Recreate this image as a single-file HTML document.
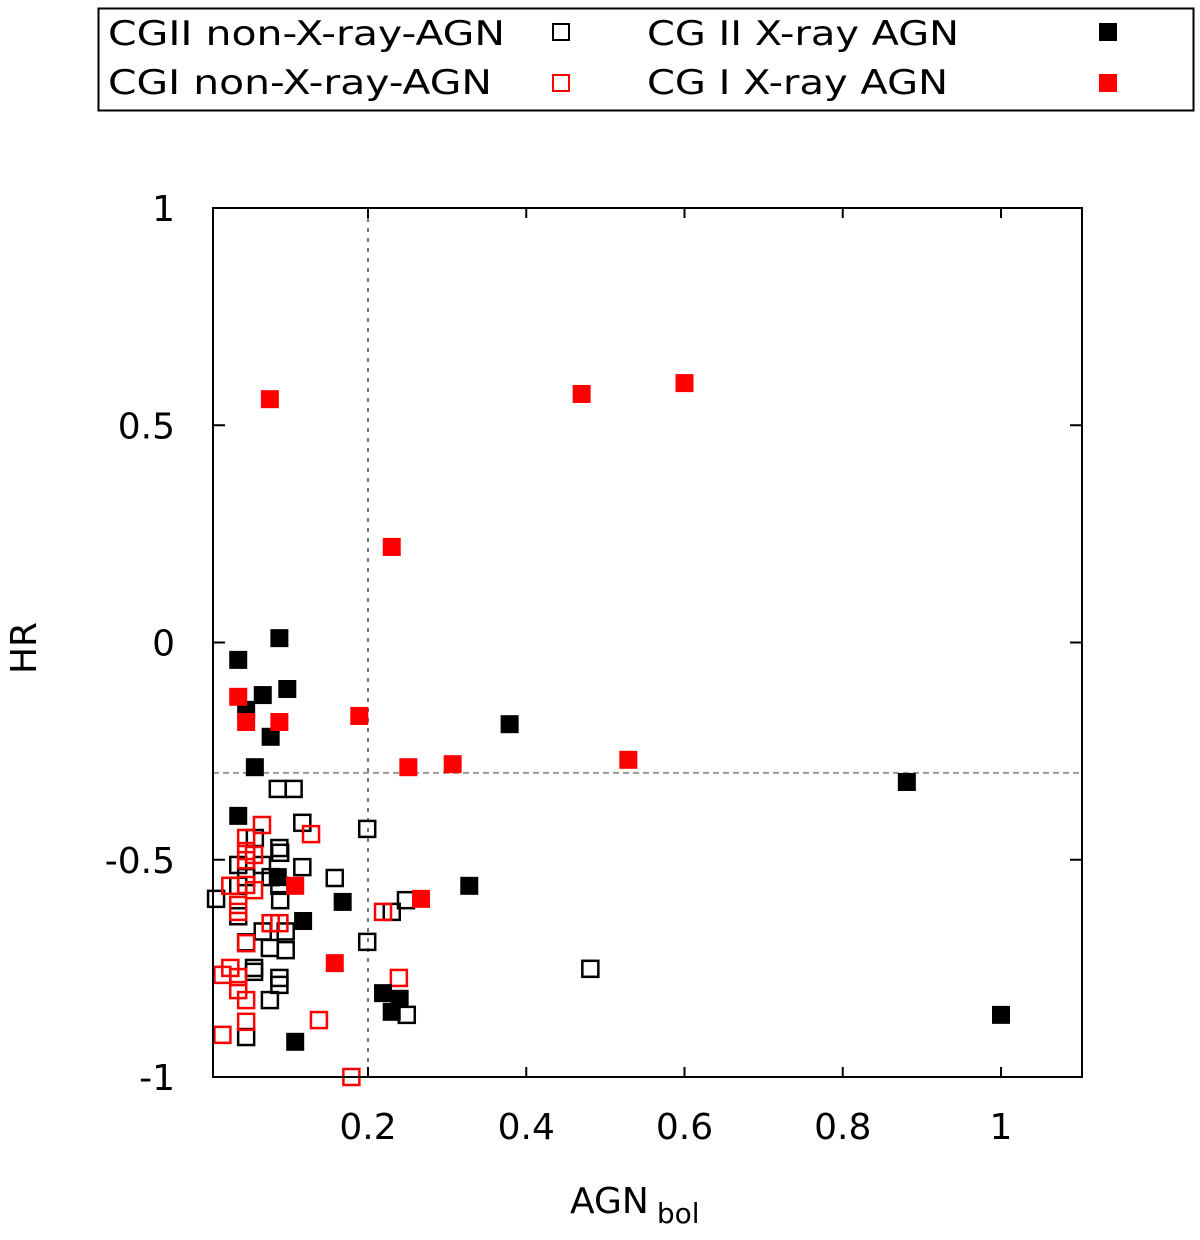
<!DOCTYPE html>
<html><head><meta charset="utf-8"><style>
body{margin:0;background:#fff;}
svg text{font-family:"DejaVu Sans","Liberation Sans",sans-serif;}
</style></head><body>
<svg id="c" width="1200" height="1235">
<g>
<rect x="98.5" y="8.5" width="1095" height="102" fill="#fff" stroke="#000" stroke-width="2"/>
<text x="108" y="45" font-size="34" textLength="397" lengthAdjust="spacingAndGlyphs">CGII non-X-ray-AGN</text>
<rect x="553" y="24" width="16" height="16" fill="none" stroke="#000" stroke-width="2"/>
<text x="108" y="94" font-size="34" textLength="384" lengthAdjust="spacingAndGlyphs">CGI non-X-ray-AGN</text>
<rect x="553" y="75" width="16" height="16" fill="none" stroke="#f00" stroke-width="2"/>
<text x="647" y="45" font-size="34" textLength="312" lengthAdjust="spacingAndGlyphs">CG II X-ray AGN</text>
<rect x="1099" y="23" width="18" height="18" fill="#000"/>
<text x="647" y="94" font-size="34" textLength="301" lengthAdjust="spacingAndGlyphs">CG I X-ray AGN</text>
<rect x="1099" y="74" width="18" height="18" fill="#f00"/>
</g>
<text x="570" y="1213" font-size="36">AGN<tspan font-size="28" dx="8" dy="10">bol</tspan></text>
<text transform="translate(36,648) rotate(-90)" font-size="36" text-anchor="middle">HR</text>
<g id="plot"></g>
</svg>
<script>
const xTicks=[0.2,0.4,0.6,0.8,1];
const xTickLabels=["0.2","0.4","0.6","0.8","1"];
const yTicks=[1,0.5,0,-0.5,-1];
const yTickLabels=["1","0.5","0","-0.5","-1"];
const cg2xX=[0.088,0.036,0.067,0.098,0.046,0.077,0.057,0.036,0.086,0.168,0.118,0.108,0.219,0.230,0.240,0.328,0.379,0.881,1.0];
const cg2xY=[0.010,-0.040,-0.121,-0.107,-0.155,-0.217,-0.287,-0.399,-0.540,-0.597,-0.641,-0.919,-0.807,-0.850,-0.820,-0.560,-0.188,-0.321,-0.857];
const cg1xX=[0.076,0.470,0.600,0.230,0.036,0.046,0.088,0.189,0.251,0.307,0.529,0.108,0.267,0.158];
const cg1xY=[0.560,0.572,0.597,0.220,-0.125,-0.183,-0.183,-0.169,-0.287,-0.280,-0.270,-0.560,-0.590,-0.738];
const cg2nX=[0.086,0.106,0.199,0.117,0.158,0.117,0.088,0.089,0.057,0.008,0.089,0.199,0.248,0.230,0.481,0.249,0.096,0.076,0.088,0.088,0.076,0.046,0.036,0.036,0.066,0.056,0.056,0.046,0.077,0.067,0.046,0.036,0.088,0.096];
const cg2nY=[-0.337,-0.337,-0.429,-0.415,-0.542,-0.517,-0.473,-0.484,-0.450,-0.590,-0.593,-0.689,-0.593,-0.620,-0.751,-0.857,-0.708,-0.703,-0.772,-0.788,-0.823,-0.908,-0.512,-0.560,-0.512,-0.758,-0.749,-0.540,-0.540,-0.665,-0.690,-0.630,-0.560,-0.665];
const cg1nX=[0.066,0.128,0.046,0.046,0.056,0.046,0.026,0.036,0.036,0.056,0.077,0.088,0.046,0.026,0.016,0.046,0.016,0.138,0.179,0.219,0.239,0.036,0.046,0.046,0.036];
const cg1nY=[-0.420,-0.441,-0.450,-0.501,-0.489,-0.558,-0.560,-0.604,-0.620,-0.570,-0.646,-0.646,-0.692,-0.749,-0.765,-0.873,-0.903,-0.869,-1.0,-0.620,-0.772,-0.800,-0.823,-0.480,-0.770];
const L=213,R=1082,T=208,B=1077;
const sx=v=>368+(v-0.2)*791.25;
const sy=v=>208+(1-v)*434.5;
const NS='http://www.w3.org/2000/svg';
const g=document.getElementById('plot');
function mk(t,a){const e=document.createElementNS(NS,t);for(const k in a)e.setAttribute(k,a[k]);g.appendChild(e);return e;}
let e;
e=mk('line',{x1:sx(0.2),y1:T,x2:sx(0.2),y2:B,stroke:'#6a7a8c','stroke-width':2,'stroke-dasharray':'4,6'});


e=mk('line',{x1:L,y1:sy(-0.3),x2:R,y2:sy(-0.3),stroke:'#999','stroke-width':2,'stroke-dasharray':'6,4'});


xTicks.forEach((v,i)=>{
  mk('line',{x1:sx(v),y1:B,x2:sx(v),y2:B-10,stroke:'#000','stroke-width':2});
  mk('line',{x1:sx(v),y1:T,x2:sx(v),y2:T+10,stroke:'#000','stroke-width':2});
  const t=mk('text',{x:sx(v),y:B+62,'font-size':36,'text-anchor':'middle'});t.textContent=xTickLabels[i];
  
  
});
yTicks.forEach((v,i)=>{
  mk('line',{x1:L,y1:sy(v),x2:L+12,y2:sy(v),stroke:'#000','stroke-width':2});
  mk('line',{x1:R,y1:sy(v),x2:R-12,y2:sy(v),stroke:'#000','stroke-width':2});
  const t=mk('text',{x:175,y:sy(v)+13,'font-size':36,'text-anchor':'end'});t.textContent=yTickLabels[i];
  
  
});
function pts(xs,ys,fill,stroke,name){
  xs.forEach((x,i)=>{
    let r;
    if(fill) r=mk('rect',{x:sx(x)-9,y:sy(ys[i])-9,width:18,height:18,fill:fill});
    else r=mk('rect',{x:sx(x)-8,y:sy(ys[i])-8,width:16,height:16,fill:'none',stroke:stroke,'stroke-width':2.5});
    
    
  });
}
pts(cg2nX,cg2nY,null,'#000','point-cgii-non-xray');
pts(cg1nX,cg1nY,null,'#f00','point-cgi-non-xray');
pts(cg2xX,cg2xY,'#000',null,'point-cgii-xray');
pts(cg1xX,cg1xY,'#f00',null,'point-cgi-xray');
e=mk('rect',{x:L,y:T,width:R-L,height:B-T,fill:'none',stroke:'#000','stroke-width':2});


</script>
</body></html>
